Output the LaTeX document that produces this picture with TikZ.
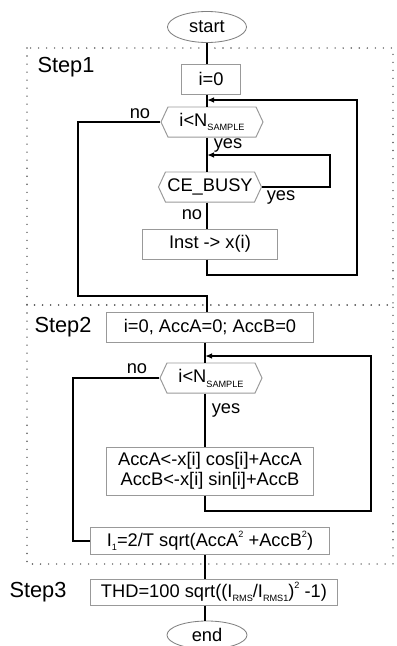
\documentclass[tikz,border=0pt]{standalone}
\usepackage{fontspec}
\setmainfont{Liberation Sans}
\usetikzlibrary{shapes.geometric,shapes.symbols,arrows.meta}

\newcommand{\lowtxt}[1]{\raisebox{-0.5ex}{\fontsize{6.5}{7}\selectfont #1}}
\newcommand{\hightxt}[1]{\raisebox{0.9ex}{\fontsize{6.5}{7}\selectfont #1}}

\begin{document}
\begin{tikzpicture}
  [x=0.025cm,y=-0.025cm,
  font=\fontsize{13}{14.5}\selectfont,
  term/.style={ellipse,draw=gray,line width=0.6pt,inner sep=0pt},
  proc/.style={rectangle,draw=gray!80,line width=0.7pt,inner sep=1pt,
    minimum height=0.75cm},
  test/.style={signal,signal to=west and east,signal pointer angle=130,
    draw=gray!80,line width=0.7pt,inner sep=1pt,
    minimum height=0.75cm,minimum width=2.55cm},
  flow/.style={draw,line width=1.4pt},
  back/.style={flow,-{Latex[length=5pt,width=4pt]}},
  frame/.style={draw=black!65,line width=1.1pt,line cap=round,
    dash pattern=on 0pt off 5.7pt},
  steplab/.style={font=\fontsize{15.5}{18}\selectfont},
  lab/.style={inner sep=0pt}]

  \useasboundingbox (0,0) rectangle (396,646);

  % step frames
  \draw[frame] (27,48) rectangle (393,305);
  \draw[frame] (27,305) rectangle (393,564);
  \node[steplab] (s1) at (66,67) {Step1};
  \node[steplab] (s2) at (63,327) {Step2};
  \node[steplab] (s3) at (38,592) {Step3};

  \node[term,minimum width=1.975cm,minimum height=0.775cm] (start) at (207,27) {start};
  \node[proc,minimum width=1.475cm] (i0) at (211,79) {i=0};
  \node[test] (t1) at (212,122) {i<N\lowtxt{SAMPLE}};
  \node[test,minimum width=2.575cm] (busy) at (210,187) {CE\_BUSY};
  \node[proc,minimum width=3.35cm] (inst) at (210,244) {Inst -> x(i)};

  \node[proc,minimum width=5.175cm] (init) at (210,327) {i=0, AccA=0; AccB=0};
  \node[test] (t2) at (211,378) {i<N\lowtxt{SAMPLE}};
  \node[proc,minimum width=5.175cm,minimum height=1.2cm,align=center] (acc) at (210,471)
    {AccA<-x[i] cos[i]+AccA\\AccB<-x[i] sin[i]+AccB};
  \node[proc,minimum width=5.975cm,minimum height=0.675cm] (amp) at (210,541)
    {I\lowtxt{1}=2/T sqrt(AccA\hightxt{2} +AccB\hightxt{2})};
  \node[proc,minimum width=6.15cm,minimum height=0.65cm] (thd) at (214,592)
    {THD=100 sqrt((I\lowtxt{RMS}/I\lowtxt{RMS1})\hightxt{2} -1)};
  \node[term,minimum width=2cm,minimum height=0.7cm] (end) at (207,635) {end};

  \coordinate (j1) at (207,100);
  \coordinate (j2) at (207,155);
  \coordinate (j3) at (205,356);
  \coordinate (r1) at (357,275);
  \coordinate (r2) at (330,155);
  \coordinate (r3) at (371,511);
  \coordinate (l1) at (78,296);
  \coordinate (l2) at (73,541);

  % step 1
  \draw[flow] (start.south -| j1) -- (i0.north -| j1);
  \draw[flow] (i0.south -| j1) -- (t1.north -| j1);
  \draw[flow] (t1.south -| j1) -- (busy.north -| j1);
  \draw[flow] (busy.south -| j1) -- (inst.north -| j1);
  \draw[back] (inst.south -| j1) |- (r1) |- (j1);
  \draw[back] (busy.east) -| (r2) -- (j2);
  \draw[flow] (t1.west) -| (l1) -| (init.north -| j1);

  % step 2
  \draw[flow] (init.south -| j3) -- (t2.north -| j3);
  \draw[flow] (t2.south -| j3) -- (acc.north -| j3);
  \draw[back] (acc.south -| j3) |- (r3) |- (j3);
  \draw[flow] (t2.west) -| (l2) -- (amp.west);

  % step 3
  \draw[flow] (amp.south -| j3) -- (thd.north -| j3);
  \draw[flow] (thd.south -| j3) -- (end.north -| j3);

  \node[lab] (no1) at (140,114) {no};
  \node[lab] (yes1) at (228,145) {yes};
  \node[lab] (yes2) at (281,197) {yes};
  \node[lab] (no2) at (192,215) {no};
  \node[lab] (no3) at (137,369) {no};
  \node[lab] (yes3) at (226,410) {yes};
\end{tikzpicture}
\end{document}
